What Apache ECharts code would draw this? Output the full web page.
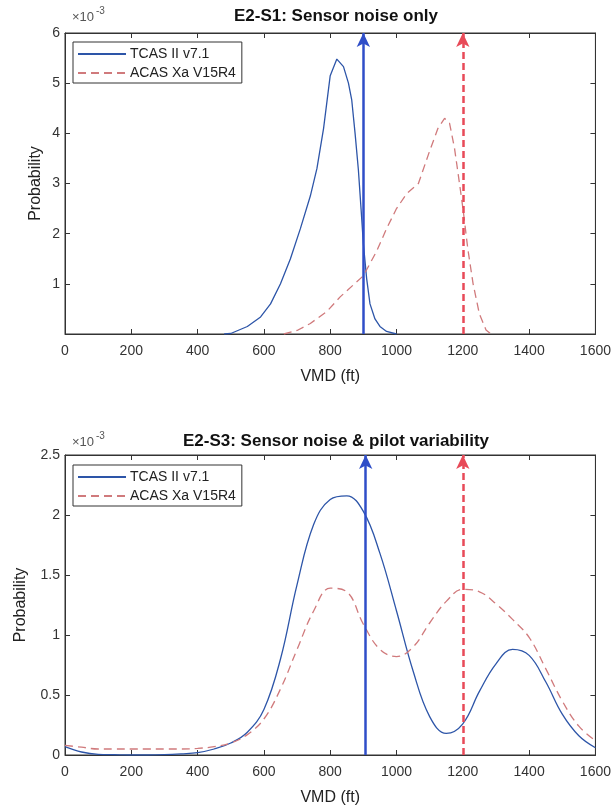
<!DOCTYPE html>
<html>
<head>
    <meta charset="utf-8">
    <title>ECharts</title>
    <script src="https://cdn.jsdelivr.net/npm/echarts@6/dist/echarts.min.js"></script>
</head>
<body style="margin:0;background:#fff;">
    <div id="main" style="width: 614px;height: 807px;"></div>
    <script type="text/javascript">
        // probabilities are in units of 1e-3 (as on the axes)

        // E2-S1: Sensor noise only
        var s1TcasVmd  = [480, 500, 550, 590, 620, 650, 680, 710, 740, 760, 780, 800, 820, 840, 855, 865, 875, 885, 893, 900, 910, 920, 935, 950, 970, 1000];
        var s1TcasProb = [0, 0.01, 0.15, 0.34, 0.6, 1.0, 1.5, 2.1, 2.75, 3.3, 4.1, 5.15, 5.48, 5.33, 5.0, 4.66, 4.0, 3.27, 2.5, 1.8, 1.1, 0.6, 0.3, 0.15, 0.05, 0];
        var s1AcasVmd  = [660, 700, 740, 790, 830, 870, 900, 940, 970, 1000, 1031, 1066, 1100, 1125, 1145, 1160, 1175, 1190, 1201, 1215, 1231, 1250, 1270, 1285];
        var s1AcasProb = [0, 0.07, 0.21, 0.45, 0.74, 0.98, 1.16, 1.65, 2.1, 2.5, 2.8, 3.0, 3.65, 4.1, 4.3, 4.2, 3.7, 3.0, 2.47, 1.7, 1.0, 0.4, 0.08, 0];
        var s1Arrows   = [900, 1200];   // TCAS, ACAS
        var s1Max = 6;

        // E2-S3: Sensor noise & pilot variability (sampled every 50 ft)
        var s3Vmd      = [0, 50, 100, 150, 200, 250, 300, 350, 400, 450, 500, 550, 600, 650, 700, 750, 800, 850, 900, 950, 1000, 1050, 1100, 1150, 1200, 1250, 1300, 1350, 1400, 1450, 1500, 1550, 1600];
        var s3TcasProb = [0.07, 0.025, 0.005, 0.002, 0, 0, 0.003, 0.01, 0.02, 0.05, 0.1, 0.19, 0.38, 0.8, 1.42, 1.92, 2.13, 2.16, 2.03, 1.68, 1.2, 0.7, 0.32, 0.18, 0.26, 0.53, 0.76, 0.88, 0.83, 0.61, 0.34, 0.16, 0.06];
        var s3AcasProb = [0.08, 0.065, 0.05, 0.05, 0.05, 0.05, 0.05, 0.05, 0.055, 0.07, 0.1, 0.17, 0.3, 0.55, 0.88, 1.2, 1.39, 1.36, 1.09, 0.88, 0.82, 0.9, 1.1, 1.28, 1.38, 1.36, 1.26, 1.13, 0.98, 0.72, 0.45, 0.24, 0.12];
        var s3Arrows   = [907, 1200];
        var s3Max = 2.5;

        var names = ['TCAS II v7.1', 'ACAS Xa V15R4'];
        var titles = ['E2-S1: Sensor noise only', 'E2-S3: Sensor noise & pilot variability'];

        var FONT = 'Liberation Sans, Arial, sans-serif';
        var AXIS = '#333';
        var BLUE = '#2d55a8';
        var ROSE = '#d07a7c';
        var ARROW_BLUE = '#2f4ec8';
        var ARROW_RED = '#e84a58';

        function zip(xs, ys) {
            var out = [];
            for (var i = 0; i < xs.length; i++) out.push([xs[i], ys[i]]);
            return out;
        }

        var myChart = echarts.init(document.getElementById('main'), null, {renderer: 'canvas'});

        var grids = [
            {left: 65, right: 18, top: 33, height: 301, show: true, borderColor: AXIS, borderWidth: 1, backgroundColor: '#fff'},
            {left: 65, right: 18, top: 455, height: 300, show: true, borderColor: AXIS, borderWidth: 1, backgroundColor: '#fff'}
        ];

        function xAx(grid, pos) {
            var main = pos === 'bottom';
            return {
                type: 'value', gridIndex: grid, position: pos, min: 0, max: 1600, interval: 200,
                axisLine: {show: true, onZero: false, lineStyle: {color: AXIS, width: 1}},
                axisTick: {show: true, inside: true, length: 5, lineStyle: {color: AXIS}},
                axisLabel: {show: main, margin: 10, fontSize: 14, color: '#333', fontFamily: FONT,
                    formatter: function (v) { return String(v); }},
                splitLine: {show: false},
                name: main ? 'VMD (ft)' : '', nameLocation: 'middle', nameGap: 35, nameMoveOverlap: false,
                nameTextStyle: {fontSize: 16, color: '#222', fontFamily: FONT}
            };
        }
        function yAx(grid, pos, max, step, hideZero, gap) {
            var main = pos === 'left';
            return {
                type: 'value', gridIndex: grid, position: pos, min: 0, max: max, interval: step,
                axisLine: {show: true, onZero: false, lineStyle: {color: AXIS, width: 1}},
                axisTick: {show: true, inside: true, length: 5, lineStyle: {color: AXIS}},
                axisLabel: {show: main, margin: 5, fontSize: 14, color: '#333', fontFamily: FONT,
                    formatter: function (v) { return (hideZero && v === 0) ? '' : String(v); }},
                splitLine: {show: false},
                name: main ? 'Probability' : '', nameLocation: 'middle', nameGap: gap, nameMoveOverlap: false,
                nameTextStyle: {fontSize: 16, color: '#222', fontFamily: FONT}
            };
        }

        function arrow(x, top, color, type) {
            return {
                silent: true, symbol: ['none', 'arrow'], symbolSize: [10, 14],
                label: {show: false},
                lineStyle: {color: color, width: 2.5, type: type},
                emphasis: {disabled: true},
                data: [[{coord: [x, 0]}, {coord: [x, top]}]]
            };
        }

        function curve(name, grid, data, color, dashed, smooth, mark) {
            return {
                name: name, type: 'line', xAxisIndex: grid * 2, yAxisIndex: grid * 2,
                data: data, showSymbol: false, symbol: 'none', smooth: smooth,
                lineStyle: {color: color, width: 1.3, type: dashed ? [8, 5] : 'solid'},
                itemStyle: {color: color},
                emphasis: {disabled: true},
                markLine: mark
            };
        }

        function legend(top) {
            return {
                data: names, orient: 'vertical', left: 73, top: top,
                padding: [5, 6, 3, 4], itemGap: 5, itemWidth: 48, itemHeight: 14,
                borderColor: '#333', borderWidth: 1, borderRadius: 0, backgroundColor: '#fff',
                selectedMode: false,
                itemStyle: {opacity: 0},
                textStyle: {fontSize: 14, color: '#222', fontFamily: FONT, padding: [0, 0, 0, -1]}
            };
        }

        function sciLabel(top) {
            return [
                {text: '×10', left: 67, top: top, textStyle: {fontSize: 13, fontWeight: 'normal', color: '#555', fontFamily: FONT}},
                {text: '-3', left: 91, top: top - 5, textStyle: {fontSize: 10, fontWeight: 'normal', color: '#555', fontFamily: FONT}}
            ];
        }

        var option = {
            animation: false,
            title: [
                {text: titles[0], left: 331, textAlign: 'center', top: 3, textStyle: {fontSize: 17, fontWeight: 'bold', color: '#111', fontFamily: FONT}},
                {text: titles[1], left: 331, textAlign: 'center', top: 428, textStyle: {fontSize: 17, fontWeight: 'bold', color: '#111', fontFamily: FONT}}
            ].concat(sciLabel(6), sciLabel(431)),
            legend: [legend(42), legend(465)],
            grid: grids,
            xAxis: [xAx(0, 'bottom'), xAx(0, 'top'), xAx(1, 'bottom'), xAx(1, 'top')],
            yAxis: [yAx(0, 'left', s1Max, 1, true, 21), yAx(0, 'right', s1Max, 1, true, 21),
                    yAx(1, 'left', s3Max, 0.5, false, 36), yAx(1, 'right', s3Max, 0.5, false, 36)],
            series: [
                curve(names[0], 0, zip(s1TcasVmd, s1TcasProb), BLUE, false, false, arrow(s1Arrows[0], s1Max, ARROW_BLUE, 'solid')),
                curve(names[1], 0, zip(s1AcasVmd, s1AcasProb), ROSE, true, false, arrow(s1Arrows[1], s1Max, ARROW_RED, [7, 4])),
                curve(names[0], 1, zip(s3Vmd, s3TcasProb), BLUE, false, 0.4, arrow(s3Arrows[0], s3Max, ARROW_BLUE, 'solid')),
                curve(names[1], 1, zip(s3Vmd, s3AcasProb), ROSE, true, 0.4, arrow(s3Arrows[1], s3Max, ARROW_RED, [7, 4]))
            ]
        };

        myChart.setOption(option);
    </script>
</body>
</html>
